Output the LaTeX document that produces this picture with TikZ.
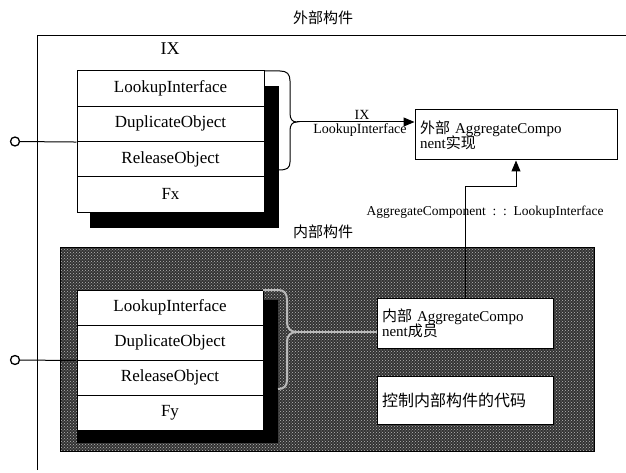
\documentclass[tikz,border=0pt]{standalone}
\usepackage{fontspec}
\setmainfont{Liberation Serif}
\newfontfamily\cjk{Noto Sans CJK SC}
\usetikzlibrary{arrows.meta,patterns}
\tikzset{
  rowbox/.style={draw, fill=white, minimum width=187pt, minimum height=35.25pt, inner sep=0pt, font=\fontsize{17}{19}\selectfont},
  irowbox/.style={rowbox, minimum width=186pt, minimum height=35pt},
  lolli/.style={circle, draw, fill=white, inner sep=0pt, minimum size=9pt, line width=1.3pt},
  textbox/.style={draw, fill=white, inner sep=4pt, align=left, font=\fontsize{15}{17}\selectfont},
  arr/.style={-{Triangle[length=11pt,width=9pt]}},
  cjklabel/.style={font=\cjk\fontsize{15}{17}\selectfont},
}
\begin{document}
\begin{tikzpicture}[x=1pt,y=-1pt,line width=1pt]
\useasboundingbox (0,0) rectangle (626,473);
% outer component frame
\node[cjklabel] (title) at (323,18) {外部构件};
\coordinate (fbl) at (37,470);
\coordinate (ftl) at (37,36);
\coordinate (ftr) at (626,36);
\draw (fbl) -- (ftl) -- (ftr);
\node[font=\fontsize{18}{20}\selectfont] (ix) at (170,49) {IX};
% upper interface shadow
\fill (264,86) rectangle (279,228);
\fill (90,212) rectangle (279,228);
% upper interface rows
\node[rowbox] (uL) at (170.5,88.6) {LookupInterface};
\node[rowbox] (uD) at (170.5,123.9) {DuplicateObject};
\node[rowbox] (uR) at (170.5,159.1) {ReleaseObject};
\node[rowbox] (uF) at (170.5,194.4) {Fx};
% upper brace
\draw (264,71) -- (280,71) .. controls (287,71) and (290,74) .. (290,81) -- (290,113)
  .. controls (290,119) and (292,122) .. (297,122) coordinate (utip)
  .. controls (292,122) and (290,125) .. (290,131) -- (290,162)
  .. controls (290,168) and (287,170) .. (279,170);
% external implementation box
\node[textbox, minimum width=202pt, minimum height=50pt, text width=192pt] (ext) at (516,135)
  {{\cjk 外部} AggregateCompo\\[-2pt]nent{\cjk 实现}};
\draw[arr] (utip) -- (ext.west |- utip);
\node[font=\fontsize{14}{14}\selectfont, anchor=south, inner sep=1pt] (lblIX) at (362,121) {IX};
\node[font=\fontsize{14}{14}\selectfont, anchor=north, inner sep=1pt] (lblLI) at (360,122) {LookupInterface};
% left lollipop (outer)
\node[lolli] (lolA) at (15,141.5) {};
\draw (lolA) -- (uD.south west);
% inner component
\node[cjklabel] (ititle) at (323,232) {内部构件};
\filldraw[fill=black!80] (60,247) rectangle (594,451);
\fill[pattern=crosshatch dots, pattern color=gray!55] (60,247) rectangle (594,451);
\draw (60,247) rectangle (594,451);
% inner interface shadow
\fill (263,300) rectangle (278,443);
\fill (77,430) rectangle (278,443);
\node[irowbox] (iL) at (170,307.5) {LookupInterface};
\node[irowbox] (iD) at (170,342.5) {DuplicateObject};
\node[irowbox] (iR) at (170,377.5) {ReleaseObject};
\node[irowbox] (iF) at (170,412.5) {Fy};
% inner brace (light)
\draw[gray!55, line width=2pt] (263,290) -- (278,290) .. controls (284,290) and (287,293) .. (287,300) -- (287,322)
  .. controls (287,328) and (290,332) .. (297,332) coordinate (itip)
  .. controls (290,332) and (287,336) .. (287,342) -- (287,380)
  .. controls (287,386) and (284,389) .. (278,389);
% inner boxes
\node[textbox, minimum width=176pt, minimum height=50pt, text width=166pt] (box1) at (465,323)
  {{\cjk 内部} AggregateCompo\\[-2pt]nent{\cjk 成员}};
\node[textbox, minimum width=176pt, minimum height=48pt, text width=166pt, font=\cjk\fontsize{16}{18}\selectfont] (box2) at (465,400)
  {控制内部构件的代码};
\draw[gray!55, line width=1.2pt] (itip) -- (box1.west |- itip);
% delegation arrow
\draw[arr] (box1.north) -- ++(0,-111) -| (ext.south);
\node[font=\fontsize{13.5}{14}\selectfont] (lblAC) at (485,212) {AggregateComponent\ \ :\ \ :\ \ LookupInterface};
% left lollipop (inner)
\node[lolli] (lolB) at (15,360) {};
\draw (lolB) -- (iD.south west);
\end{tikzpicture}
\end{document}
